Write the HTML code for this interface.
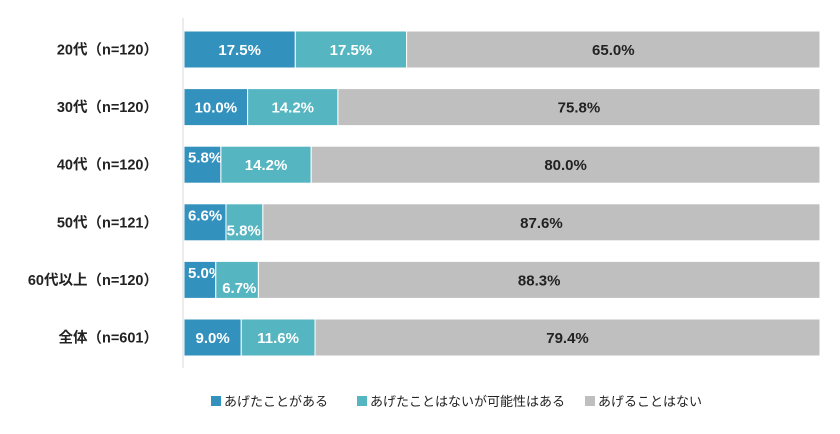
<!DOCTYPE html>
<html><head><meta charset="utf-8"><style>
body{margin:0;background:#fff;}
svg text{font-family:"Liberation Sans","Noto Sans CJK JP",sans-serif;font-weight:bold;}
</style></head><body>
<svg width="840" height="429">
<g id="plot"></g>
<g id="legend"></g>
</svg>
<script>
const categories=["20代（n=120）","30代（n=120）","40代（n=120）","50代（n=121）","60代以上（n=120）","全体（n=601）"];
const s1=[17.5,10.0,5.8,6.6,5.0,9.0];
const s2=[17.5,14.2,14.2,5.8,6.7,11.6];
const s3=[65.0,75.8,80.0,87.6,88.3,79.4];
const seriesNames=["あげたことがある","あげたことはないが可能性はある","あげることはない"];
const colors=["#3391bd","#55b5c0","#bfbfbf"];
const x0=184,x1=820,rowTop=31,rowStep=57.6,barH=37;
const xs=v=>x0+(x1-x0)*v/100;
const NS="http://www.w3.org/2000/svg";
const plot=document.getElementById('plot');
function mk(t,a,p){const e=document.createElementNS(NS,t);for(const k in a)e.setAttribute(k,a[k]);p.appendChild(e);return e;}
const axis=mk('line',{x1:183,x2:183,y1:18,y2:368,stroke:'#d9d9d9','stroke-width':1},plot);


const series=[s1,s2,s3];
categories.forEach((c,i)=>{
  const y=rowTop+i*rowStep, cy=y+barH/2;
  const lab=mk('text',{x:158,y:cy+5,'text-anchor':'end','font-size':14.5,fill:'#222'},plot);
  lab.textContent=c;
  
  
  let acc=0;
  series.forEach((s,k)=>{
    const v=s[i], xa=xs(acc), xb=xs(acc+v);
    const r=mk('rect',{x:xa,y:y,width:xb-xa,height:barH,fill:colors[k],stroke:'#fff','stroke-width':1},plot);
    
    
    const w=xb-xa;
    let tx=(xa+xb)/2, ty=cy+5.5, anchor='middle';
    if(w<45){
      if(k===0){tx=xa+4;anchor='start';ty=cy-2;}
      else{tx=xb-2;anchor='end';ty=cy+13;}
      if(i===2&&k===1){tx=(xa+xb)/2;anchor='middle';ty=cy+5.5;}
    }
    const t=mk('text',{x:tx,y:ty,'text-anchor':anchor,'font-size':15,fill:k===2?'#222':'#fff'},plot);
    t.textContent=v.toFixed(1)+'%';
    
    
    acc+=v;
  });
});
const leg=document.getElementById('legend');
const lx=[211,357,585];
seriesNames.forEach((n,k)=>{
  const r=mk('rect',{x:lx[k],y:396,width:10,height:10,fill:colors[k]},leg);
  
  
  const t=mk('text',{x:lx[k]+13,y:406,'font-size':13,fill:'#222'},leg);
  t.style.fontWeight='normal';
  t.textContent=n;
  
  
});
</script>
</body></html>
